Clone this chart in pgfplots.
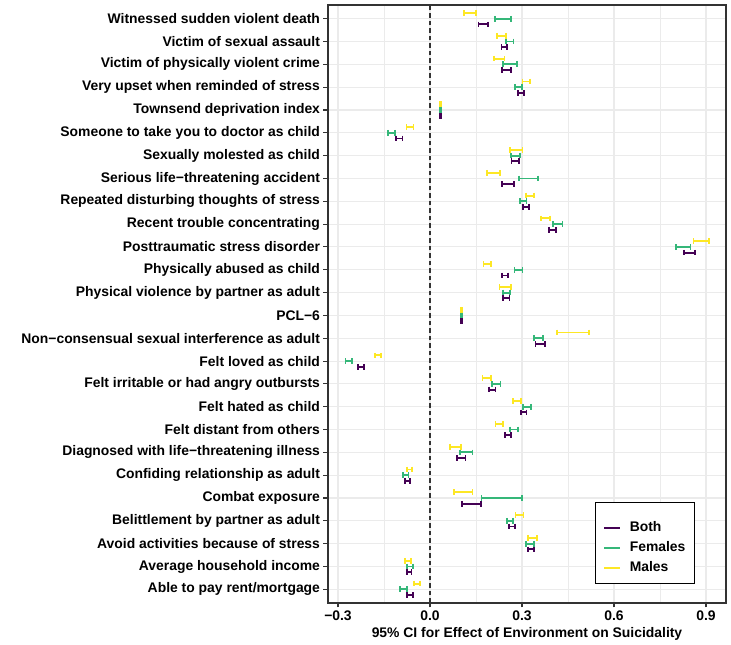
\documentclass[border=0pt]{standalone}
\usepackage{fontspec}
\setmainfont{Liberation Sans}
\usepackage{pgfplots}
\usepackage{pgfplotstable}
\pgfplotsset{compat=1.18}
\definecolor{cboth}{HTML}{440154}
\definecolor{cfem}{HTML}{35B779}
\definecolor{cmal}{HTML}{FDE725}
\definecolor{gridc}{HTML}{EBEBEB}
\definecolor{framec}{HTML}{333333}
\newcommand\lblfont{\bfseries\fontsize{13.9}{16}\selectfont}

% y = position from bottom (1 = Able to pay rent/mortgage, 26 = Witnessed sudden violent death)
\pgfplotstableread{
y lo hi
26 0.158 0.190
25 0.233 0.252
24 0.235 0.264
23 0.288 0.307
22 0.032 0.036
21 -0.111 -0.090
20 0.266 0.291
19 0.235 0.273
18 0.303 0.322
17 0.388 0.410
16 0.828 0.864
15 0.234 0.254
14 0.238 0.259
13 0.102 0.106
12 0.344 0.374
11 -0.234 -0.216
10 0.192 0.214
9 0.296 0.315
8 0.245 0.264
7 0.087 0.116
6 -0.082 -0.065
5 0.105 0.166
4 0.258 0.277
3 0.320 0.340
2 -0.076 -0.060
1 -0.076 -0.056
}\both
\pgfplotstableread{
y lo hi
26 0.212 0.264
25 0.248 0.272
24 0.239 0.284
23 0.277 0.300
22 0.032 0.036
21 -0.138 -0.114
20 0.264 0.293
19 0.291 0.352
18 0.293 0.315
17 0.401 0.432
16 0.802 0.849
15 0.276 0.302
14 0.237 0.261
13 0.102 0.106
12 0.338 0.368
11 -0.276 -0.255
10 0.202 0.230
9 0.304 0.329
8 0.261 0.286
7 0.098 0.139
6 -0.087 -0.070
5 0.168 0.299
4 0.250 0.271
3 0.314 0.339
2 -0.075 -0.055
1 -0.098 -0.074
}\females
\pgfplotstableread{
y lo hi
26 0.112 0.150
25 0.218 0.247
24 0.209 0.243
23 0.302 0.327
22 0.032 0.036
21 -0.077 -0.054
20 0.261 0.302
19 0.186 0.229
18 0.314 0.338
17 0.363 0.391
16 0.859 0.910
15 0.174 0.200
14 0.227 0.263
13 0.102 0.106
12 0.414 0.519
11 -0.179 -0.160
10 0.171 0.199
9 0.270 0.297
8 0.214 0.238
7 0.065 0.101
6 -0.076 -0.058
5 0.078 0.139
4 0.279 0.305
3 0.320 0.349
2 -0.082 -0.062
1 -0.053 -0.032
}\males

\newcommand\cibars[3]{% table, colour, y offset
  \addplot[forget plot, draw=#2, line width=1.9pt, mark=none,
    quiver={u={\thisrow{hi}-\thisrow{lo}}, v=0,
      every arrow/.append style={draw=#2, line width=1.9pt}}]
    table[x=lo, y expr={\thisrow{y}+#3}] {#1};
  \addplot[forget plot, only marks, mark=|, mark size=2.85pt,
    mark options={draw=#2, line width=1.7pt}]
    table[x=lo, y expr={\thisrow{y}+#3}] {#1};
  \addplot[forget plot, only marks, mark=|, mark size=2.85pt,
    mark options={draw=#2, line width=1.7pt}]
    table[x=hi, y expr={\thisrow{y}+#3}] {#1};
}

\begin{document}
\begin{tikzpicture}
\begin{axis}[
  at={(0pt,0pt)}, anchor=south west,
  width=398pt, height=598pt, scale only axis,
  xmin=-0.3326, xmax=0.9652, ymin=0.4, ymax=26.6,
  xtick={-0.3,0,0.3,0.6,0.9},
  xticklabels={−0.3,0.0,0.3,0.6,0.9},
  minor xtick={-0.15,0.15,0.45,0.75},
  ytick={1,...,26},
  yticklabels={Able to pay rent/mortgage,Average household income,Avoid activities because of stress,Belittlement by partner as adult,Combat exposure,Confiding relationship as adult,Diagnosed with life−threatening illness,Felt distant from others,Felt hated as child,Felt irritable or had angry outbursts,Felt loved as child,Non−consensual sexual interference as adult,PCL−6,Physical violence by partner as adult,Physically abused as child,Posttraumatic stress disorder,Recent trouble concentrating,Repeated disturbing thoughts of stress,Serious life−threatening accident,Sexually molested as child,Someone to take you to doctor as child,Townsend deprivation index,Very upset when reminded of stress,Victim of physically violent crime,Victim of sexual assault,Witnessed sudden violent death},
  grid=both,
  major grid style={draw=gridc, line width=1.1pt},
  minor grid style={draw=gridc, line width=0.55pt},
  minor tick length=0pt,
  major tick length=4.5pt,
  tick align=outside,
  tick pos=left,
  tick style={draw=framec, line width=1.1pt},
  axis line style={draw=framec, line width=1.1pt},
  ticklabel style={font=\lblfont, text=black},
  xlabel={95\% CI for Effect of Environment on Suicidality},
  label style={font=\lblfont, text=black},
  legend style={at={(0.922,0.032)}, anchor=south east, draw=black, line width=1pt,
    font=\lblfont, cells={anchor=west}, row sep=5pt, column sep=8pt,
    inner xsep=8pt, inner ysep=8pt,
    nodes={inner sep=1pt, text height=10pt, text depth=3pt}},
  legend image code/.code={\draw[#1, line width=1.6pt] (0pt,0pt) -- (16pt,0pt);},
]
\addplot[forget plot, draw=framec, dash pattern=on 4.5pt off 3pt, line width=1.2pt] coordinates {(0,0.4) (0,26.6)};

\cibars{\males}{cmal}{0.25}
\cibars{\females}{cfem}{0}
\cibars{\both}{cboth}{-0.25}

\addlegendimage{empty legend}\addlegendentry[text height=3pt, text depth=0pt]{}
\addlegendimage{cboth}\addlegendentry{Both}
\addlegendimage{cfem}\addlegendentry{Females}
\addlegendimage{cmal}\addlegendentry{Males}
\end{axis}
\pgfresetboundingbox
\path[use as bounding box] (-328pt,-42pt) rectangle (403pt,603pt);
\end{tikzpicture}
\end{document}
